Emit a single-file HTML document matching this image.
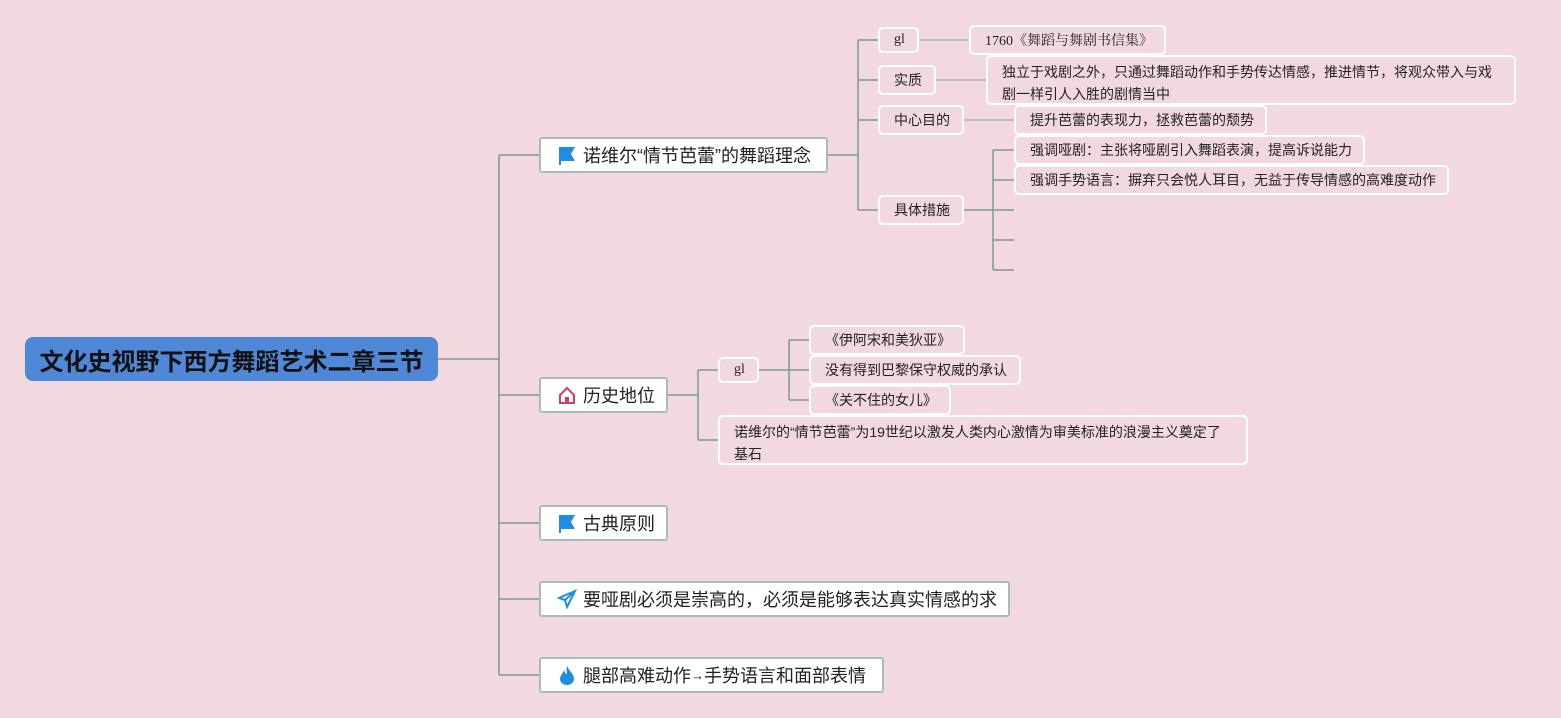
<!DOCTYPE html>
<html><head><meta charset="utf-8"><style>
body{margin:0;width:1561px;height:718px;background:#f2d9df;position:relative;overflow:hidden;font-family:"Liberation Sans","Noto Sans CJK SC",sans-serif;}
.n{position:absolute;box-sizing:border-box;color:#222;white-space:nowrap;}
.m{background:#fff;border:2px solid #a9bdb6;border-radius:3px;font-size:18px;display:flex;align-items:center;padding-left:16px;}
.c{border:2px solid #fff;border-radius:5px;font-size:14px;display:flex;align-items:center;padding-left:14px;}
.c2{border:2px solid #fff;border-radius:5px;font-size:14px;padding:4px 14px;line-height:22px;white-space:normal;}
.ic{display:inline-block;width:20px;height:20px;margin-right:6px;}
svg{position:absolute;left:0;top:0;}
</style></head><body>
<svg width="1561" height="718" fill="none" stroke="#7a9a8f" stroke-width="1.5">
<path d="M438 359H499M499 155V675M499 155H539M499 395H539M499 523H539M499 599H539M499 675H539"/>
<path d="M828 155H858M858 40V210M858 40H878M858 80H878M858 120H878M858 210H878"/>
<path d="M919 40H969M936 80H986M964 120H1014" stroke="#aab8b2"/>
<path d="M964 210H993M993 150V270M993 150H1014M993 180H1014M993 210H1014M993 240H1014M993 270H1014"/>
<path d="M668 395H698M698 370V440M698 370H718M698 440H718"/>
<path d="M759 370H789M789 340V400M789 340H809M789 370H809M789 400H809"/>
</svg>
<div class="n" style="left:25px;top:337px;width:413px;height:44px;background:#4f88d6;border-radius:8px;font-size:24px;font-weight:bold;color:#111;display:flex;align-items:center;justify-content:center;">文化史视野下西方舞蹈艺术二章三节</div>

<div class="n m" style="left:539px;top:137px;width:289px;height:36px;"><svg class="ic" style="position:static" viewBox="0 0 20 20"><path d="M2 2H18L14 9L18 16H4V20H2Z" fill="#1e8fe0" stroke="none"/></svg>诺维尔“情节芭蕾”的舞蹈理念</div>
<div class="n m" style="left:539px;top:377px;width:129px;height:36px;"><svg class="ic" style="position:static" viewBox="0 0 20 20"><path d="M3 10L10 3L17 10V18H3Z" stroke="#d63a66" stroke-width="2" fill="none"/><rect x="8" y="12" width="4" height="6" fill="#d63a66" stroke="none"/></svg>历史地位</div>
<div class="n m" style="left:539px;top:505px;width:129px;height:36px;"><svg class="ic" style="position:static" viewBox="0 0 20 20"><path d="M2 2H18L14 9L18 16H4V20H2Z" fill="#1e8fe0" stroke="none"/></svg>古典原则</div>
<div class="n m" style="left:539px;top:581px;width:471px;height:36px;"><svg class="ic" style="position:static" viewBox="0 0 20 20"><path d="M18 2L2 9L8 11L10 18ZM8 11L18 2" stroke="#1e8fe0" stroke-width="2" fill="none"/></svg>要哑剧必须是崇高的，必须是能够表达真实情感的求</div>
<div class="n m" style="left:539px;top:657px;width:345px;height:36px;"><svg class="ic" style="position:static" viewBox="0 0 20 20"><path d="M10 1C12 6 17 9 17 14A7 6 0 0 1 3 14C3 10 6 9 7 5C8 8 9 9 10 9C10 6 9 4 10 1Z" fill="#1e8fe0" stroke="none"/></svg>腿部高难动作<span style="font-size:13px">→</span>手势语言和面部表情</div>

<div class="n c" style="left:878px;top:27px;width:41px;height:26px;font-family:'Liberation Serif',serif;">gl</div>
<div class="n c" style="left:878px;top:65px;width:58px;height:30px;">实质</div>
<div class="n c" style="left:878px;top:105px;width:86px;height:30px;">中心目的</div>
<div class="n c" style="left:878px;top:195px;width:86px;height:30px;">具体措施</div>
<div class="n c" style="left:969px;top:25px;width:197px;height:30px;"><span style="font-family:'Liberation Serif','Noto Serif CJK SC',serif">1760《舞蹈与舞剧书信集》</span></div>
<div class="n c2" style="left:986px;top:55px;width:530px;height:50px;">独立于戏剧之外，只通过舞蹈动作和手势传达情感，推进情节，将观众带入与戏剧一样引人入胜的剧情当中</div>
<div class="n c" style="left:1014px;top:105px;width:253px;height:30px;">提升芭蕾的表现力，拯救芭蕾的颓势</div>
<div class="n c" style="left:1014px;top:135px;width:351px;height:30px;">强调哑剧：主张将哑剧引入舞蹈表演，提高诉说能力</div>
<div class="n c" style="left:1014px;top:165px;width:435px;height:30px;">强调手势语言：摒弃只会悦人耳目，无益于传导情感的高难度动作</div>

<div class="n c" style="left:718px;top:357px;width:41px;height:26px;font-family:'Liberation Serif',serif;">gl</div>
<div class="n c2" style="left:718px;top:415px;width:530px;height:50px;">诺维尔的“情节芭蕾”为19世纪以激发人类内心激情为审美标准的浪漫主义奠定了基石</div>
<div class="n c" style="left:809px;top:325px;width:156px;height:30px;">《伊阿宋和美狄亚》</div>
<div class="n c" style="left:809px;top:355px;width:212px;height:30px;">没有得到巴黎保守权威的承认</div>
<div class="n c" style="left:809px;top:385px;width:142px;height:30px;">《关不住的女儿》</div>
</body></html>
